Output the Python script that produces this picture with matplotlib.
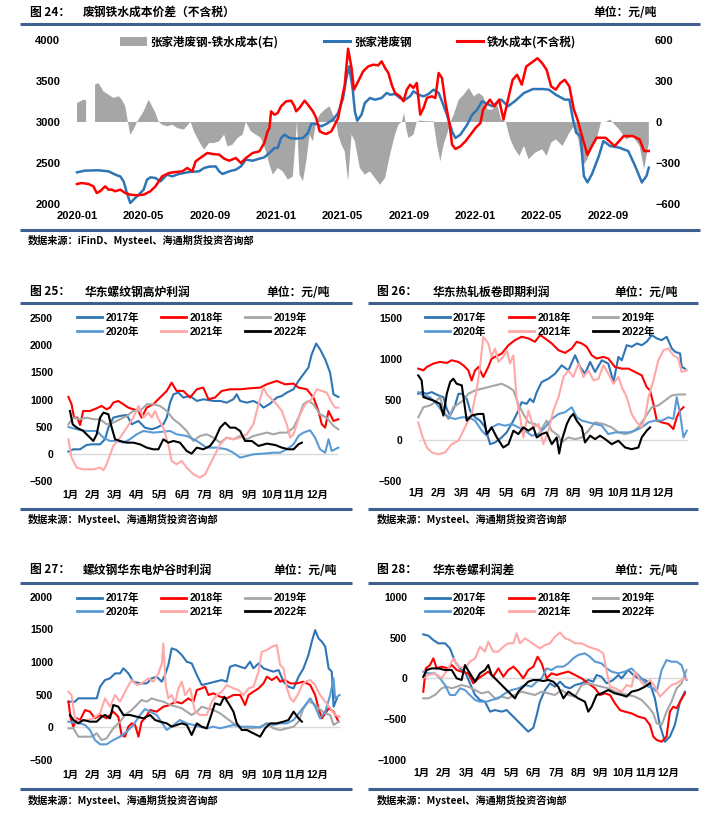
import numpy as np
import matplotlib
matplotlib.use('Agg')
import matplotlib.pyplot as plt
from matplotlib.lines import Line2D
from matplotlib.font_manager import FontProperties

nan = np.nan

# ---------------- Figure 24 data (x = months since 2020-01) ----------------
top_xlabels = ['2020-01', '2020-05', '2020-09', '2021-01', '2021-05', '2021-09', '2022-01', '2022-05', '2022-09']
top_xticks = [0, 4, 8, 12, 16, 20, 24, 28, 32]

blue_m = [0.0, 0.48, 1.29, 1.90, 2.40, 2.61, 2.81, 3.01, 3.21, 3.41, 3.72, 4.02, 4.22, 4.42, 4.73, 5.03, 5.43, 5.74, 6.14, 6.75,
          7.35, 7.66, 7.96, 8.36, 8.57, 8.77, 9.17, 9.58, 9.88, 10.18, 10.59, 10.99, 11.29,
          11.70, 11.90, 12.10, 12.30, 12.51, 12.81, 13.21, 13.62, 13.92, 14.12, 14.42, 14.73, 15.03, 15.43, 15.74, 16.04, 16.24, 16.40, 16.61, 16.75,
          16.89, 17.15, 17.35, 17.66, 17.96, 18.36, 18.67, 18.87, 19.17, 19.47, 19.78, 20.08, 20.28, 20.59, 20.89, 21.19, 21.49, 21.80, 22.00, 22.30,
          22.61, 22.81, 23.11, 23.52, 23.82, 24.12, 24.42,
          24.62, 25.03, 25.57, 25.98, 26.39, 26.94, 27.49, 28.04, 28.45, 28.86, 29.40, 29.68, 29.90, 30.09, 30.36, 30.55, 30.77, 31.04, 31.46, 31.73,
          32.14, 32.69, 33.23, 33.64, 34.05, 34.33, 34.47]
blue_v = [2386, 2407, 2411, 2398, 2350, 2337, 2276, 2134, 2012, 2053, 2114, 2175, 2297, 2325, 2317, 2276, 2358, 2337, 2366, 2390,
          2398, 2439, 2455, 2459, 2398, 2366, 2398, 2419, 2459, 2541, 2528, 2553, 2569,
          2642, 2683, 2683, 2805, 2846, 2805, 2797, 2805, 2866, 2976, 2976, 2947, 2976, 3028, 3110, 3293, 3537, 3679, 3415, 3130,
          3016, 3089, 3232, 3293, 3272, 3293, 3354, 3333, 3341, 3293, 3272, 3313, 3374, 3333, 3313, 3341, 3394, 3354, 3252, 3089,
          2886, 2805, 2846, 2967, 3089, 3150, 3252,
          3232, 3192, 3273, 3192, 3253, 3354, 3402, 3402, 3394, 3333, 3273, 3273, 3030, 2869, 2828, 2343, 2263, 2364, 2586, 2768,
          2707, 2687, 2646, 2465, 2263, 2343, 2444]

red_m = [0.0, 0.28, 0.69, 0.99, 1.19, 1.39, 1.70, 1.90, 2.10, 2.30, 2.61, 2.91, 3.21, 3.62, 4.02, 4.42, 4.73, 5.13, 5.54, 5.94,
         6.34, 6.65, 6.95, 7.15, 7.56, 7.86, 8.16, 8.57, 8.87, 9.17, 9.58, 9.88, 10.18, 10.59, 10.99, 11.29,
         11.49, 11.60, 11.70, 11.90, 12.10, 12.30, 12.61, 12.91, 13.11, 13.21, 13.41, 13.72, 13.92, 14.22, 14.42, 14.63, 14.83, 15.03, 15.33, 15.54,
         15.74, 15.94, 16.14, 16.34, 16.55, 16.69, 16.85, 17.05, 17.25, 17.56, 17.86, 18.16, 18.36, 18.57, 18.77, 18.97, 19.17, 19.47, 19.68, 19.88,
         20.08, 20.28, 20.48, 20.69, 20.89, 21.09, 21.39, 21.60, 21.80, 22.00, 22.20, 22.46, 22.61, 22.81, 23.11, 23.41, 23.72, 24.02, 24.32,
         24.48, 24.89, 25.16, 25.44, 25.71, 25.98, 26.26, 26.53, 26.81, 27.08, 27.49, 27.76, 28.04, 28.31, 28.58, 28.86, 29.13, 29.40, 29.68, 29.95,
         30.17, 30.50, 30.77, 31.04, 31.32, 31.86, 32.41, 32.95, 33.50, 33.91, 34.19, 34.47]
red_v = [2244, 2256, 2244, 2215, 2134, 2155, 2215, 2175, 2175, 2155, 2175, 2134, 2114, 2106, 2114, 2155, 2215, 2337, 2378, 2390,
         2398, 2439, 2398, 2520, 2581, 2622, 2610, 2602, 2553, 2528, 2561, 2500, 2561, 2622, 2642, 2744,
         2886, 2927, 3130, 3089, 3110, 3191, 3252, 3260, 3191, 3130, 3171, 3260, 3211, 3130, 3049, 2886, 2866, 2854, 2886, 2967,
         3049, 3252, 3455, 3894, 3659, 3394, 3455, 3537, 3618, 3679, 3699, 3691, 3740, 3659, 3598, 3455, 3354, 3313, 3252, 3394,
         3455, 3415, 3476, 3089, 3171, 3293, 3313, 3293, 3598, 3537, 3252, 2967, 2724, 2671, 2703, 2764, 2846, 2927, 2988,
         3152, 3273, 3192, 3273, 3030, 3273, 3515, 3576, 3455, 3677, 3737, 3778, 3717, 3636, 3434, 3394, 3475, 3515, 3434, 3152,
         3030, 2788, 2600, 2707, 2808, 2808, 2707, 2828, 2828, 2788, 2646, 2646]

spread_m = [0.0, 0.38, 0.55, 0.8, 1.09, 1.29, 1.60, 1.90, 2.20, 2.51, 2.71, 2.91, 3.07, 3.21, 3.41, 3.62, 3.82, 4.02, 4.32, 4.53,
            4.73, 4.93, 5.13, 5.43, 5.74, 6.04, 6.44, 6.85, 7.05, 7.35, 7.66, 7.96, 8.26, 8.57, 8.87, 9.07, 9.37, 9.68, 9.98, 10.18,
            10.48, 10.79, 11.09, 11.39, 11.60, 11.80, 12.10, 12.40, 12.71, 13.01, 13.26, 13.41, 13.62, 13.82, 14.02, 14.22, 14.42, 14.63, 14.93, 15.23,
            15.43, 15.64, 15.74, 15.94, 16.14, 16.34, 16.55, 16.75, 17.05, 17.35, 17.66, 17.96, 18.26, 18.57, 18.87, 19.17, 19.37, 19.58, 19.72, 19.84,
            19.98, 20.28, 20.48, 20.69, 21.09, 21.49, 21.70, 21.90, 22.10, 22.30, 22.51, 22.71, 23.01, 23.31, 23.62, 23.92, 24.22, 24.48, 24.75, 25.03,
            25.30, 25.57, 25.85, 26.12, 26.39, 26.67, 26.94, 27.22, 27.63, 28.04, 28.31, 28.58, 28.86, 29.27, 29.68, 29.95, 30.22, 30.50, 30.77, 31.04,
            31.32, 31.59, 31.86, 32.14, 32.41, 32.69, 33.10, 33.50, 33.91, 34.19, 34.47]
spread_v = [139, 163, 160, nan, 273, 285, 224, 200, 176, 188, 163, 115, 0, -93, -56, 0, 41, 78, 163, 115,
            66, 0, -20, -32, -20, -44, -56, 0, -68, -141, -202, -154, -154, -141, -93, -178, -166, -117, -93, 0,
            -68, -93, -117, -215, -312, -385, -337, -361, -422, -398, 0, -385, -434, -288, -93, -141, 0, 54, 90, 115,
            54, 0, -93, -166, -215, -434, -93, -141, -337, -385, -361, -410, -459, -410, -239, -93, -20, 0, 66, -44,
            -117, -93, 0, 10, 5, 5, -166, -288, -166, -93, 0, 54, 163, 200, 249, 188, 212, 188, 91, 91,
            139, 18, 0, -127, -200, -248, -175, -272, -224, -200, -248, -151, -127, -175, -79, -32, -127, -321, -272, -175,
            -127, 0, 0, 18, -19, -55, -127, -103, -175, -345, -151]

# ---------------- seasonal panels (x = months since Jan 1) ----------------
years = ['2017年', '2018年', '2019年', '2020年', '2021年', '2022年']
year_colors = ['#2E75B6', '#FF0000', '#A6A6A6', '#5B9BD5', '#FFA8A8', '#000000']
month_labels = ['1月', '2月', '3月', '4月', '5月', '6月', '7月', '8月', '9月', '10月', '11月', '12月']

# Figure 25 华东螺纹钢高炉利润
p25_2017_m = [-0.07, 0.15, 0.45, 0.74, 0.97, 1.34, 1.56, 1.71, 1.93, 2.23, 2.53, 2.75, 3.05, 3.34, 3.64, 3.86, 4.16, 4.31, 4.46, 4.61,
              4.83, 5.05, 5.35, 5.65, 5.94, 6.39, 6.69, 6.98, 7.28, 7.43, 7.58, 7.88, 8.17, 8.47, 8.62, 8.92, 9.21, 9.44, 9.66, 9.96,
              10.18, 10.40, 10.62, 10.77, 10.97, 11.14, 11.37, 11.59, 11.74, 11.96]
p25_2017_v = [37, 80, 80, 160, 172, 172, 265, 480, 665, 696, 715, 542, 604, 480, 450, 480, 542, 665, 942, 1096,
              1127, 1035, 1066, 973, 1004, 973, 973, 942, 1004, 1096, 973, 942, 973, 912, 850, 924, 1035, 1066, 1127, 1189,
              1343, 1466, 1589, 1836, 2033, 1928, 1743, 1497, 1096, 1047]
p25_2018_m = [-0.07, 0.07, 0.18, 0.33, 0.45, 0.59, 0.89, 1.19, 1.41, 1.63, 1.78, 1.93, 2.15, 2.38, 2.60, 2.82, 3.05, 3.19, 3.42, 3.71,
              4.01, 4.31, 4.53, 4.75, 5.05, 5.35, 5.65, 5.94, 6.17, 6.46, 6.76, 7.13, 7.58, 8.02, 8.47, 8.77, 9.21, 9.58, 9.96, 10.18,
              10.55, 10.85, 11.07, 11.22, 11.37, 11.52, 11.74, 11.96]
p25_2018_v = [1047, 912, 665, 665, 530, 788, 788, 838, 881, 819, 850, 942, 973, 912, 850, 819, 788, 665, 850, 912,
              1035, 1158, 1312, 1158, 1158, 1035, 1189, 1220, 1004, 1035, 1158, 1189, 1189, 1207, 1220, 1281, 1343, 1281, 1294, 1220,
              1189, 1035, 788, 542, 480, 788, 604, 635]
p25_2019_m = [-0.07, 0.15, 0.45, 0.74, 1.04, 1.34, 1.63, 1.93, 2.23, 2.53, 2.82, 3.12, 3.42, 3.71, 4.01, 4.31, 4.61, 4.90, 5.20, 5.50,
              5.79, 6.09, 6.39, 6.69, 6.98, 7.28, 7.58, 7.88, 8.17, 8.47, 8.77, 9.06, 9.36, 9.66, 9.96, 10.18, 10.40, 10.62, 10.85, 11.14,
              11.44, 11.74, 11.96]
p25_2019_v = [542, 665, 635, 665, 635, 635, 542, 573, 635, 696, 788, 788, 912, 912, 881, 788, 635, 542, 419, 234,
              326, 357, 296, 203, 296, 265, 326, 265, 326, 357, 388, 357, 388, 388, 480, 665, 912, 973, 912, 727,
              665, 511, 450]
p25_2020_m = [-0.07, 0.30, 0.74, 1.19, 1.49, 1.78, 2.08, 2.38, 2.67, 2.97, 3.27, 3.71, 4.16, 4.46, 4.75, 5.20, 5.65, 6.09, 6.54, 6.98,
              7.28, 7.58, 7.88, 8.17, 8.62, 9.06, 9.36, 9.66, 9.96, 10.18, 10.40, 10.70, 10.92, 11.14, 11.37, 11.52, 11.66, 11.96]
p25_2020_v = [493, 450, 419, 419, 296, 234, 234, 203, 265, 357, 419, 388, 406, 419, 357, 326, 234, 111, 111, 80,
              18, -74, -43, -12, 0, 18, 18, 80, 172, 326, 388, 431, 296, 80, 18, 265, 49, 111]
p25_2021_m = [-0.07, 0.07, 0.30, 0.59, 1.04, 1.34, 1.49, 1.63, 1.93, 2.23, 2.53, 2.82, 3.05, 3.27, 3.49, 3.64, 3.79, 3.94, 4.16, 4.38,
              4.53, 4.75, 4.98, 5.20, 5.50, 5.79, 6.02, 6.24, 6.54, 6.69, 6.98, 7.28, 7.58, 7.88, 8.17, 8.40, 8.62, 8.77, 8.92, 9.21,
              9.44, 9.66, 9.81, 9.96, 10.10, 10.25, 10.48, 10.77, 11.00, 11.22, 11.44, 11.66, 11.81, 11.96]
p25_2021_v = [265, -74, -259, -290, -290, -259, -308, -197, 142, 296, 480, 665, 881, 665, 758, 665, 788, 635, 480, 172,
              -136, -197, -136, -259, -382, -444, -382, -197, 49, 172, 296, 265, 296, 357, 542, 912, 1220, 1096, 1035, 912,
              788, 542, 296, 357, 542, 727, 912, 1004, 1189, 1158, 1127, 942, 850, 850]
p25_2022_m = [0.00, 0.12, 0.30, 0.59, 0.89, 1.04, 1.19, 1.34, 1.49, 1.71, 1.86, 2.01, 2.23, 2.53, 2.82, 3.12, 3.42, 3.71, 3.94, 4.16,
              4.38, 4.61, 4.90, 5.20, 5.42, 5.65, 5.94, 6.24, 6.46, 6.69, 6.91, 7.13, 7.36, 7.58, 7.80, 8.10, 8.40, 8.77, 9.14, 9.44,
              9.73, 9.96, 10.18, 10.33]
p25_2022_v = [788, 542, 480, 419, 296, 234, 357, 665, 758, 727, 480, 265, 234, 203, 203, 172, 111, 80, 80, 265,
              203, 234, 203, 49, 0, 111, 80, 142, 265, 480, 573, 480, 480, 419, 234, 234, 142, 185, 160, 111,
              80, 80, 172, 203]

# Figure 26 华东热轧板卷即期利润
p26_2017_m = [0.07, 0.22, 0.45, 0.67, 0.97, 1.19, 1.34, 1.49, 1.71, 1.86, 2.01, 2.23, 2.38, 2.60, 2.82, 3.05, 3.27, 3.49, 3.79, 4.01,
              4.31, 4.53, 4.68, 4.90, 5.05, 5.20, 5.35, 5.57, 5.87, 6.17, 6.46, 6.76, 7.06, 7.28, 7.50, 7.73, 7.95, 8.25, 8.54, 8.77,
              8.99, 9.14, 9.36, 9.58, 9.81, 10.03, 10.25, 10.48, 10.70, 10.92, 11.14, 11.37, 11.52, 11.74, 11.81, 11.96]
p26_2017_v = [570, 591, 570, 591, 550, 529, 384, 302, 426, 570, 570, 508, 364, 281, 240, 157, -50, -29, 33, 95,
              240, 364, 467, 446, 508, 467, 591, 715, 756, 818, 921, 859, 1045, 901, 818, 963, 839, 983, 942, 715,
              1025, 983, 1169, 1149, 1190, 1169, 1211, 1293, 1252, 1231, 1273, 1128, 1087, 1066, 901, 880]
p26_2018_m = [0.07, 0.30, 0.45, 0.74, 1.04, 1.34, 1.56, 1.86, 2.08, 2.30, 2.45, 2.60, 2.75, 2.97, 3.19, 3.34, 3.49, 3.79, 4.09, 4.38,
              4.68, 4.98, 5.27, 5.50, 5.72, 6.02, 6.32, 6.61, 6.91, 7.13, 7.36, 7.58, 7.80, 8.02, 8.32, 8.54, 8.84, 9.14, 9.44, 9.73,
              10.03, 10.25, 10.40, 10.55, 10.70, 10.92, 11.22, 11.44, 11.59, 11.74, 11.89]
p26_2018_v = [880, 859, 901, 942, 963, 950, 983, 963, 921, 859, 735, 859, 901, 777, 901, 1004, 1025, 1066, 1169, 1231,
              1273, 1252, 1211, 1293, 1252, 1190, 1107, 1074, 1128, 1211, 1190, 1149, 1045, 1004, 1025, 1004, 901, 880, 880, 839,
              797, 653, 612, 446, 240, 219, 198, 136, 281, 364, 405]
p26_2019_m = [0.07, 0.30, 0.59, 0.82, 1.04, 1.26, 1.41, 1.63, 1.86, 2.08, 2.30, 2.60, 2.90, 3.19, 3.49, 3.79, 4.09, 4.31, 4.53, 4.75,
              4.98, 5.27, 5.57, 5.79, 6.02, 6.32, 6.46, 6.76, 7.06, 7.36, 7.65, 7.95, 8.32, 8.69, 8.99, 9.29, 9.58, 9.88, 10.18, 10.48,
              10.77, 11.07, 11.37, 11.66, 11.96]
p26_2019_v = [281, 405, 426, 467, 529, 322, 260, 405, 446, 488, 570, 612, 632, 653, 674, 694, 653, 612, 446, 322,
              219, 198, 136, 240, 116, 54, -29, 33, 12, 33, 116, 219, 198, 157, 95, 74, 95, 157, 281, 405,
              426, 488, 550, 562, 562]
p26_2020_m = [0.07, 0.30, 0.59, 0.89, 1.11, 1.41, 1.71, 2.01, 2.30, 2.60, 2.90, 3.12, 3.34, 3.64, 3.94, 4.23, 4.53, 4.83, 5.13, 5.42,
              5.72, 6.02, 6.32, 6.61, 6.91, 7.13, 7.36, 7.65, 7.95, 8.25, 8.54, 8.84, 9.14, 9.44, 9.73, 10.03, 10.33, 10.62, 10.92, 11.22,
              11.44, 11.59, 11.74, 11.89, 12.04]
p26_2020_v = [591, 550, 529, 446, 364, 281, 260, 281, 281, 240, 116, 54, 157, 198, 178, 198, 157, 116, 54, 74,
              157, 260, 322, 343, 405, 281, 240, 219, 198, 178, 74, 95, 95, 95, 116, 157, 219, 240, 240, 281,
              260, 529, 322, 33, 116]
p26_2021_m = [0.07, 0.22, 0.45, 0.67, 0.97, 1.26, 1.56, 1.86, 2.15, 2.45, 2.67, 2.82, 2.97, 3.19, 3.34, 3.49, 3.64, 3.86, 4.01, 4.16,
              4.31, 4.46, 4.61, 4.75, 4.98, 5.20, 5.42, 5.65, 5.87, 6.09, 6.32, 6.54, 6.76, 6.98, 7.21, 7.43, 7.65, 7.88, 8.10, 8.32,
              8.54, 8.77, 8.99, 9.14, 9.36, 9.58, 9.81, 10.03, 10.18, 10.33, 10.55, 10.77, 11.00, 11.22, 11.44, 11.66, 11.81, 12.04]
p26_2021_v = [219, 74, -91, -153, -174, -153, -50, -8, 157, 322, 612, 901, 1273, 1190, 1025, 1128, 963, 1025, 1107, 942,
              1045, 488, 281, 33, 364, 157, 198, -50, 116, 364, 529, 777, 859, 777, 942, 777, 859, 735, 756, 921,
              818, 694, 777, 653, 529, 322, 219, 157, 281, 529, 735, 983, 1107, 1128, 1045, 1004, 839, 859]
p26_2022_m = [0.07, 0.22, 0.30, 0.52, 0.74, 1.04, 1.19, 1.34, 1.49, 1.63, 1.78, 2.01, 2.23, 2.45, 2.75, 2.97, 3.12, 3.34, 3.57, 3.86,
              4.09, 4.31, 4.53, 4.75, 4.98, 5.20, 5.35, 5.57, 5.79, 6.02, 6.24, 6.35, 6.46, 6.69, 6.84, 6.98, 7.13, 7.36, 7.50, 7.73,
              7.95, 8.17, 8.40, 8.69, 8.99, 9.29, 9.58, 9.88, 10.03, 10.25, 10.40]
p26_2022_v = [797, 735, 529, 508, 488, 446, 302, 570, 715, 756, 694, 674, 240, 302, 322, 322, 74, 157, 33, -91,
              -50, 116, 74, 157, 116, 157, 33, 74, 95, -50, 33, -165, -8, 198, 281, 322, 240, 157, -29, 54,
              12, 54, 12, -50, -8, -91, -112, -91, 33, 116, 157]

# Figure 27 螺纹钢华东电炉谷时利润
p27_2017_m = [-0.07, 0.22, 0.37, 0.74, 1.19, 1.34, 1.56, 1.78, 2.01, 2.23, 2.38, 2.60, 2.82, 3.12, 3.42, 3.64, 3.86, 4.09, 4.23, 4.38,
              4.53, 4.75, 4.98, 5.20, 5.42, 5.65, 5.87, 6.17, 6.46, 6.76, 6.98, 7.13, 7.36, 7.58, 7.80, 8.02, 8.17, 8.40, 8.62, 8.84,
              9.06, 9.29, 9.51, 9.73, 9.96, 10.18, 10.40, 10.62, 10.77, 10.92, 11.07, 11.22, 11.37, 11.52, 11.66, 11.74, 11.89]
p27_2017_v = [393, 393, 444, 444, 444, 622, 724, 750, 826, 826, 903, 826, 699, 673, 673, 750, 775, 699, 801, 954,
              1209, 1183, 1107, 1005, 979, 801, 648, 673, 699, 724, 699, 928, 954, 928, 903, 1005, 903, 979, 903, 877,
              852, 877, 699, 622, 597, 775, 903, 1107, 1311, 1489, 1362, 1311, 1234, 903, 852, 316, 444]
p27_2018_m = [-0.07, 0.03, 0.15, 0.30, 0.45, 0.67, 0.89, 1.11, 1.34, 1.63, 1.93, 2.15, 2.30, 2.45, 2.60, 2.75, 2.90, 3.05, 3.19, 3.34,
              3.57, 3.86, 4.16, 4.46, 4.68, 4.98, 5.27, 5.50, 5.65, 5.87, 6.02, 6.17, 6.39, 6.69, 6.98, 7.28, 7.58, 7.80, 7.95, 8.17,
              8.40, 8.62, 8.77, 8.99, 9.21, 9.36, 9.58, 9.81, 10.10, 10.40, 10.70, 10.92, 11.07, 11.22, 11.37, 11.52, 11.74, 11.96]
p27_2018_v = [393, 138, 10, 138, 112, 265, 240, 138, 189, 138, 240, 163, -117, -143, 10, 61, 36, -143, 87, 138,
              265, 240, 316, 342, 393, 367, 444, 393, 571, 597, 622, 495, 520, 469, 444, 495, 495, 342, 495, 546,
              597, 673, 775, 724, 775, 699, 724, 673, 673, 699, 648, 495, 291, 138, 214, 291, 240, 87]
p27_2019_m = [-0.07, 0.15, 0.37, 0.59, 0.97, 1.19, 1.41, 1.63, 1.93, 2.23, 2.45, 2.75, 2.97, 3.19, 3.42, 3.64, 3.86, 4.16, 4.46, 4.75,
              4.98, 5.20, 5.42, 5.65, 5.87, 6.09, 6.39, 6.69, 6.98, 7.28, 7.58, 7.88, 8.17, 8.47, 8.77, 9.06, 9.36, 9.66, 9.96, 10.18,
              10.40, 10.62, 10.85, 11.07, 11.37, 11.59, 11.74, 11.96]
p27_2019_v = [-15, -15, -143, -143, -143, -92, -194, -168, -15, 87, 189, 265, 342, 418, 393, 444, 418, 393, 342, 316,
              291, 240, 189, 240, 316, 291, 265, 214, 138, 61, 10, -15, -15, 10, 61, -15, -41, -15, 10, 87,
              291, 393, 367, 291, 214, 189, 36, 87]
p27_2020_m = [-0.07, 0.45, 0.67, 0.89, 1.11, 1.34, 1.63, 1.93, 2.23, 2.53, 2.82, 3.12, 3.34, 3.57, 3.86, 4.16, 4.31, 4.61, 4.90, 5.20,
              5.50, 5.79, 6.09, 6.39, 6.69, 6.98, 7.28, 7.58, 7.88, 8.17, 8.47, 8.77, 9.06, 9.36, 9.66, 9.96, 10.25, 10.48, 10.70, 10.92,
              11.14, 11.37, 11.59, 11.74, 11.81, 12.01]
p27_2020_v = [87, 61, 36, -41, -194, -260, -260, -194, -143, -66, 36, 189, 280, 240, 189, 36, -41, 36, 112, 61,
              36, 10, -15, 10, -15, 10, 36, 10, 10, 10, -5, 61, 36, 61, 61, 112, 240, 342, 444, 316,
              138, 240, 495, 750, 444, 495]
p27_2021_m = [-0.07, 0.07, 0.22, 0.45, 0.74, 1.04, 1.34, 1.56, 1.78, 2.01, 2.23, 2.53, 2.75, 2.97, 3.19, 3.49, 3.71, 3.94, 4.09, 4.16,
              4.26, 4.38, 4.53, 4.68, 4.83, 4.98, 5.13, 5.35, 5.57, 5.79, 6.09, 6.32, 6.54, 6.76, 6.98, 7.28, 7.50, 7.73, 7.95, 8.17,
              8.40, 8.54, 8.77, 8.99, 9.21, 9.36, 9.51, 9.66, 9.81, 9.96, 10.18, 10.33, 10.48, 10.70, 10.92, 11.14, 11.37, 11.59, 11.81, 12.01]
p27_2021_v = [546, 495, 138, 87, 112, 138, 214, 444, 316, 495, 393, 597, 724, 648, 673, 750, 699, 826, 979, 1285,
              648, 444, 495, 367, 597, 699, 495, 597, 240, 189, 189, 393, 495, 546, 648, 597, 571, 495, 597, 622,
              852, 1158, 1183, 1234, 1260, 954, 903, 597, 444, 393, 520, 648, 699, 724, 648, 495, 393, 291, 189, 163]
p27_2022_m = [0.00, 0.15, 0.37, 0.59, 0.89, 1.19, 1.41, 1.56, 1.78, 1.93, 2.15, 2.38, 2.67, 2.97, 3.27, 3.57, 3.79, 4.01, 4.31, 4.53,
              4.75, 4.98, 5.20, 5.42, 5.65, 5.87, 6.09, 6.24, 6.46, 6.69, 6.87, 7.06, 7.28, 7.43, 7.65, 7.88, 8.17, 8.47, 8.69, 8.92,
              9.21, 9.51, 9.73, 9.96, 10.18, 10.33]
p27_2022_v = [189, 112, 61, 112, 87, 87, 163, 189, 138, 342, 316, 189, 189, 163, 138, 189, 112, 87, 61, 10,
              36, 61, 36, -117, 61, 10, -15, 138, 367, 342, 469, 367, 240, 61, -41, -41, -92, -143, -15, 61,
              61, 87, 112, 240, 138, 87]

# Figure 28 华东卷螺利润差
p28_2017_m = [0.07, 0.30, 0.52, 0.74, 1.04, 1.26, 1.49, 1.71, 1.93, 2.15, 2.38, 2.60, 2.82, 3.05, 3.27, 3.57, 3.79, 4.01, 4.31, 4.53,
              4.75, 4.98, 5.13, 5.27, 5.50, 5.72, 5.94, 6.17, 6.39, 6.61, 6.84, 7.13, 7.43, 7.65, 7.80, 8.02, 8.25, 8.54, 8.77, 8.92,
              9.21, 9.44, 9.66, 9.96, 10.18, 10.40, 10.62, 10.85, 11.07, 11.29, 11.52, 11.74]
p28_2017_v = [539, 522, 469, 429, 429, 367, 204, 122, 82, -61, -204, -265, -286, -408, -388, -408, -388, -449, -531, -592,
              -653, -604, -449, -286, -143, -61, -102, -41, -102, -122, -82, -61, -20, -41, 41, 20, -61, -20, 41, 0,
              102, 41, 0, -20, -61, -245, -571, -776, -714, -571, -286, -163]
p28_2018_m = [0.07, 0.18, 0.37, 0.52, 0.67, 0.89, 1.19, 1.34, 1.56, 1.78, 2.08, 2.30, 2.53, 2.75, 2.97, 3.19, 3.42, 3.64, 3.86, 4.09,
              4.31, 4.53, 4.75, 4.98, 5.17, 5.35, 5.57, 5.79, 6.02, 6.24, 6.54, 6.84, 7.13, 7.43, 7.73, 7.95, 8.17, 8.40, 8.62, 8.84,
              9.06, 9.36, 9.66, 9.96, 10.18, 10.33, 10.48, 10.70, 10.92, 11.07, 11.22, 11.37, 11.52, 11.74]
p28_2018_v = [-163, 122, 163, 245, 122, 143, 122, 163, 102, 82, 61, -61, 0, 41, 82, 20, 122, 20, 102, 143,
              82, 0, 102, 143, 265, 184, 0, 61, 41, 61, 82, 41, 0, -61, -122, -204, -184, -204, -306, -388,
              -408, -429, -469, -490, -571, -714, -755, -776, -714, -408, -347, -367, -286, -184]
p28_2019_m = [0.07, 0.30, 0.59, 0.89, 1.11, 1.34, 1.56, 1.78, 2.08, 2.38, 2.67, 2.97, 3.27, 3.57, 3.86, 4.16, 4.46, 4.75, 5.05, 5.35,
              5.65, 5.94, 6.24, 6.54, 6.84, 7.13, 7.43, 7.73, 8.02, 8.32, 8.62, 8.92, 9.21, 9.51, 9.81, 10.10, 10.33, 10.48, 10.70, 10.92,
              11.14, 11.37, 11.59, 11.81]
p28_2019_v = [-245, -245, -204, -122, -102, -122, -102, -82, -102, -143, -184, -163, -245, -224, -245, -204, -163, -184, -204, -163,
              -184, -204, -143, -204, -224, -82, -61, -82, -102, -122, -163, -184, -204, -224, -265, -347, -429, -551, -571, -408,
              -286, -122, -61, 102]
p28_2020_m = [0.07, 0.30, 0.59, 0.82, 1.04, 1.26, 1.49, 1.71, 1.93, 2.15, 2.38, 2.60, 2.90, 3.12, 3.42, 3.71, 4.01, 4.31, 4.61, 4.90,
              5.13, 5.35, 5.57, 5.79, 6.02, 6.32, 6.54, 6.76, 6.98, 7.28, 7.50, 7.73, 8.02, 8.25, 8.47, 8.77, 9.06, 9.36, 9.58, 9.81,
              10.10, 10.33, 10.48, 10.70, 10.92, 11.14, 11.37, 11.59, 11.81]
p28_2020_v = [82, 61, 61, 0, -82, -204, -204, -122, -143, -204, -265, -286, -286, -265, -245, -184, -143, -122, -82, -102,
              -41, 0, 122, 102, 143, 143, 184, 245, 286, 306, 265, 204, 184, 122, 82, 61, 82, 122, 61, 0,
              -102, -122, -163, 102, 224, 204, 204, 163, -20]
p28_2021_m = [0.07, 0.30, 0.59, 0.89, 1.19, 1.41, 1.63, 1.93, 2.15, 2.38, 2.60, 2.82, 2.97, 3.19, 3.42, 3.64, 3.86, 4.09, 4.23, 4.38,
              4.61, 4.83, 5.05, 5.27, 5.50, 5.72, 5.94, 6.17, 6.39, 6.61, 6.84, 7.13, 7.43, 7.65, 7.88, 8.10, 8.25, 8.40, 8.62, 8.92,
              9.14, 9.36, 9.51, 9.73, 9.96, 10.18, 10.40, 10.62, 10.85, 11.14, 11.37, 11.59, 11.81]
p28_2021_v = [0, 41, 61, 0, 122, 245, 143, 122, 204, 245, 388, 327, 449, 327, 327, 388, 429, 429, 551, 429,
              490, 449, 408, 367, 408, 429, 510, 563, 490, 469, 429, 429, 388, 367, 347, 306, 82, -102, -122, -163,
              -82, -102, 82, -20, -102, -20, -102, -224, -163, -82, -61, -20, 0]
p28_2022_m = [0.07, 0.22, 0.45, 0.74, 1.04, 1.34, 1.56, 1.78, 1.93, 2.15, 2.38, 2.60, 2.82, 2.97, 3.12, 3.27, 3.49, 3.71, 3.94, 4.16,
              4.31, 4.53, 4.75, 4.98, 5.20, 5.42, 5.65, 5.87, 6.09, 6.32, 6.54, 6.76, 6.98, 7.28, 7.43, 7.58, 7.80, 8.02, 8.32, 8.62,
              8.92, 9.14, 9.36, 9.66, 9.96, 10.18]
p28_2022_v = [20, 102, 122, 122, 102, 102, 0, -20, 163, 61, -41, 61, 102, 163, 41, 0, -61, -122, -184, -245,
              -163, -102, -41, -20, -20, -33, -20, -41, -102, -245, -163, -204, -245, -286, -408, -347, -204, -184, -143, -184,
              -204, -224, -163, -143, -102, -61]

# ---------------- drawing ----------------
W, H = 711, 826
fig = plt.figure(figsize=(W / 100, H / 100), dpi=100)
fig.patch.set_facecolor('white')

CJK = ['Noto Sans CJK SC', 'DejaVu Sans']
NUM = ['Liberation Sans', 'Noto Sans CJK SC', 'DejaVu Sans']
RULE = '#3F5F8F'


def fx(x):
    return x / W


def fy(y):
    return 1 - y / H


def box(L, R, T, B):
    return [L / W, 1 - B / H, (R - L) / W, (B - T) / H]


def rule(x0, x1, y):
    fig.add_artist(Line2D([fx(x0), fx(x1)], [fy(y), fy(y)], transform=fig.transFigure,
                          color=RULE, lw=2.2, solid_capstyle='butt'))


def header(x_num, x_title, x_unit, y, num, title):
    fp = FontProperties(family=CJK, weight='bold', size=8.5)
    fig.text(fx(x_num), fy(y), f'图 {num}：', ha='left', va='center', fontproperties=fp)
    fig.text(fx(x_title), fy(y), title, ha='left', va='center', fontproperties=fp)
    fig.text(fx(x_unit), fy(y), '单位：元/吨', ha='right', va='center', fontproperties=fp)


def source(x, y, txt):
    fig.text(fx(x), fy(y), txt, ha='left', va='center',
             fontproperties=FontProperties(family=CJK, weight='bold', size=7.3))


def style_ticks(ax, size, xpad, ypad):
    for s in ax.spines.values():
        s.set_visible(False)
    ax.tick_params(axis='both', length=0)
    ax.tick_params(axis='x', pad=xpad)
    ax.tick_params(axis='y', pad=ypad)
    fp = FontProperties(family=NUM, weight='bold', size=size)
    for lab in ax.get_xticklabels() + ax.get_yticklabels():
        lab.set_fontproperties(fp)


# ---- Figure 24 ----
header(30, 83, 657, 12.7, 24, '废钢铁水成本价差（不含税）')
rule(20, 700, 24)
rule(20, 700, 230)
source(28, 240.5, '数据来源：iFinD、Mysteel、海通期货投资咨询部')

ax = fig.add_axes(box(62, 650, 40, 204))
ax2 = ax.twinx()
ax.set_zorder(ax2.get_zorder() + 1)
ax.patch.set_visible(False)

fill = ax2.fill_between(spread_m, spread_v, 0, color='#A6A6A6', lw=0)
lb, = ax.plot(blue_m, blue_v, color='#2E75B6', lw=1.8)
lr, = ax.plot(red_m, red_v, color='#FF0000', lw=1.8)

ax.set_xlim(-0.904, 34.54)
ax.set_ylim(2000, 4000)
ax.set_yticks([2000, 2500, 3000, 3500, 4000])
ax.set_xticks(top_xticks)
ax.set_xticklabels(top_xlabels)
ax2.set_ylim(-600, 600)
ax2.set_yticks([-600, -300, 0, 300, 600])
style_ticks(ax, 8, 5, 1.3)
style_ticks(ax2, 8, 5, 3.6)

leg = ax.legend([fill, lb, lr], ['张家港废钢-铁水成本(右)', '张家港废钢', '铁水成本(不含税)'],
                ncol=3, loc='center left', bbox_to_anchor=(fx(120), fy(42)), bbox_transform=fig.transFigure,
                frameon=False, borderpad=0, borderaxespad=0, handlelength=2.3, handletextpad=0.35,
                columnspacing=3.9, prop=FontProperties(family=CJK, weight='bold', size=8.3))
for hl in leg.get_lines():
    hl.set_linewidth(2.2)


# ---- seasonal panels ----
def panel(L, R, T, B, xmin, xmax, ylim, ystep, series, leg_x, leg_y, xpad):
    axp = fig.add_axes(box(L, R, T, B))
    lines = []
    for (m, v), col in zip(series, year_colors):
        ln, = axp.plot(m, v, color=col, lw=1.5)
        lines.append(ln)
    allm = np.concatenate([np.asarray(s[0], float) for s in series])
    axp.hlines(0, allm.min(), allm.max(), color='#D9D9D9', lw=1.0, zorder=0.5)
    axp.set_xlim(xmin, xmax)
    axp.set_ylim(*ylim)
    axp.set_xticks(range(12))
    axp.set_xticklabels(month_labels)
    axp.set_yticks(np.arange(ylim[0], ylim[1] + 1, ystep))
    style_ticks(axp, 7.5, xpad, 1.4)
    order = [0, 3, 1, 4, 2, 5]
    lg = axp.legend([lines[i] for i in order], [years[i] for i in order], ncol=3, loc='center left',
                    bbox_to_anchor=(fx(leg_x), fy(leg_y)), bbox_transform=fig.transFigure,
                    frameon=False, borderpad=0, borderaxespad=0, handlelength=2.4, handletextpad=0.3,
                    columnspacing=2.15, labelspacing=0.35,
                    prop=FontProperties(family=NUM, weight='bold', size=7.5))
    for hl in lg.get_lines():
        hl.set_linewidth(2.0)
    return axp


# Figure 25
header(30, 85, 330, 292, 25, '华东螺纹钢高炉利润')
rule(20, 352, 303.3)
rule(20, 352, 509.3)
source(28, 519.3, '数据来源：Mysteel、海通期货投资咨询部')
panel(55, 342, 318.3, 480.7, -0.668, 12.12, (-500, 2500), 500,
      [(p25_2017_m, p25_2017_v), (p25_2018_m, p25_2018_v), (p25_2019_m, p25_2019_v),
       (p25_2020_m, p25_2020_v), (p25_2021_m, p25_2021_v), (p25_2022_m, p25_2022_v)],
      77, 324.7, 6.5)

# Figure 26
header(377, 433, 678, 292, 26, '华东热轧板卷即期利润')
rule(368, 698, 303)
rule(368, 698, 509)
source(377, 519, '数据来源：Mysteel、海通期货投资咨询部')
panel(404, 692, 318.3, 480.7, -0.566, 12.27, (-500, 1500), 500,
      [(p26_2017_m, p26_2017_v), (p26_2018_m, p26_2018_v), (p26_2019_m, p26_2019_v),
       (p26_2020_m, p26_2020_v), (p26_2021_m, p26_2021_v), (p26_2022_m, p26_2022_v)],
      425, 324.7, 5.3)

# Figure 27
header(30, 83, 337, 570, 27, '螺纹钢华东电炉谷时利润')
rule(20, 352, 582.7)
rule(20, 352, 789.3)
source(28, 800, '数据来源：Mysteel、海通期货投资咨询部')
panel(55, 343, 596.7, 760, -0.668, 12.16, (-500, 2000), 500,
      [(p27_2017_m, p27_2017_v), (p27_2018_m, p27_2018_v), (p27_2019_m, p27_2019_v),
       (p27_2020_m, p27_2020_v), (p27_2021_m, p27_2021_v), (p27_2022_m, p27_2022_v)],
      77, 605, 7)

# Figure 28
header(377, 433, 678, 570, 28, '华东卷螺利润差')
rule(368, 698, 582.7)
rule(368, 698, 789)
source(377, 800, '数据来源：Mysteel、海通期货投资咨询部')
panel(409, 693, 596.7, 760, -0.566, 12.10, (-1000, 1000), 500,
      [(p28_2017_m, p28_2017_v), (p28_2018_m, p28_2018_v), (p28_2019_m, p28_2019_v),
       (p28_2020_m, p28_2020_v), (p28_2021_m, p28_2021_v), (p28_2022_m, p28_2022_v)],
      425, 605, 5.8)

fig.savefig('out.png', dpi=100, facecolor='white')
